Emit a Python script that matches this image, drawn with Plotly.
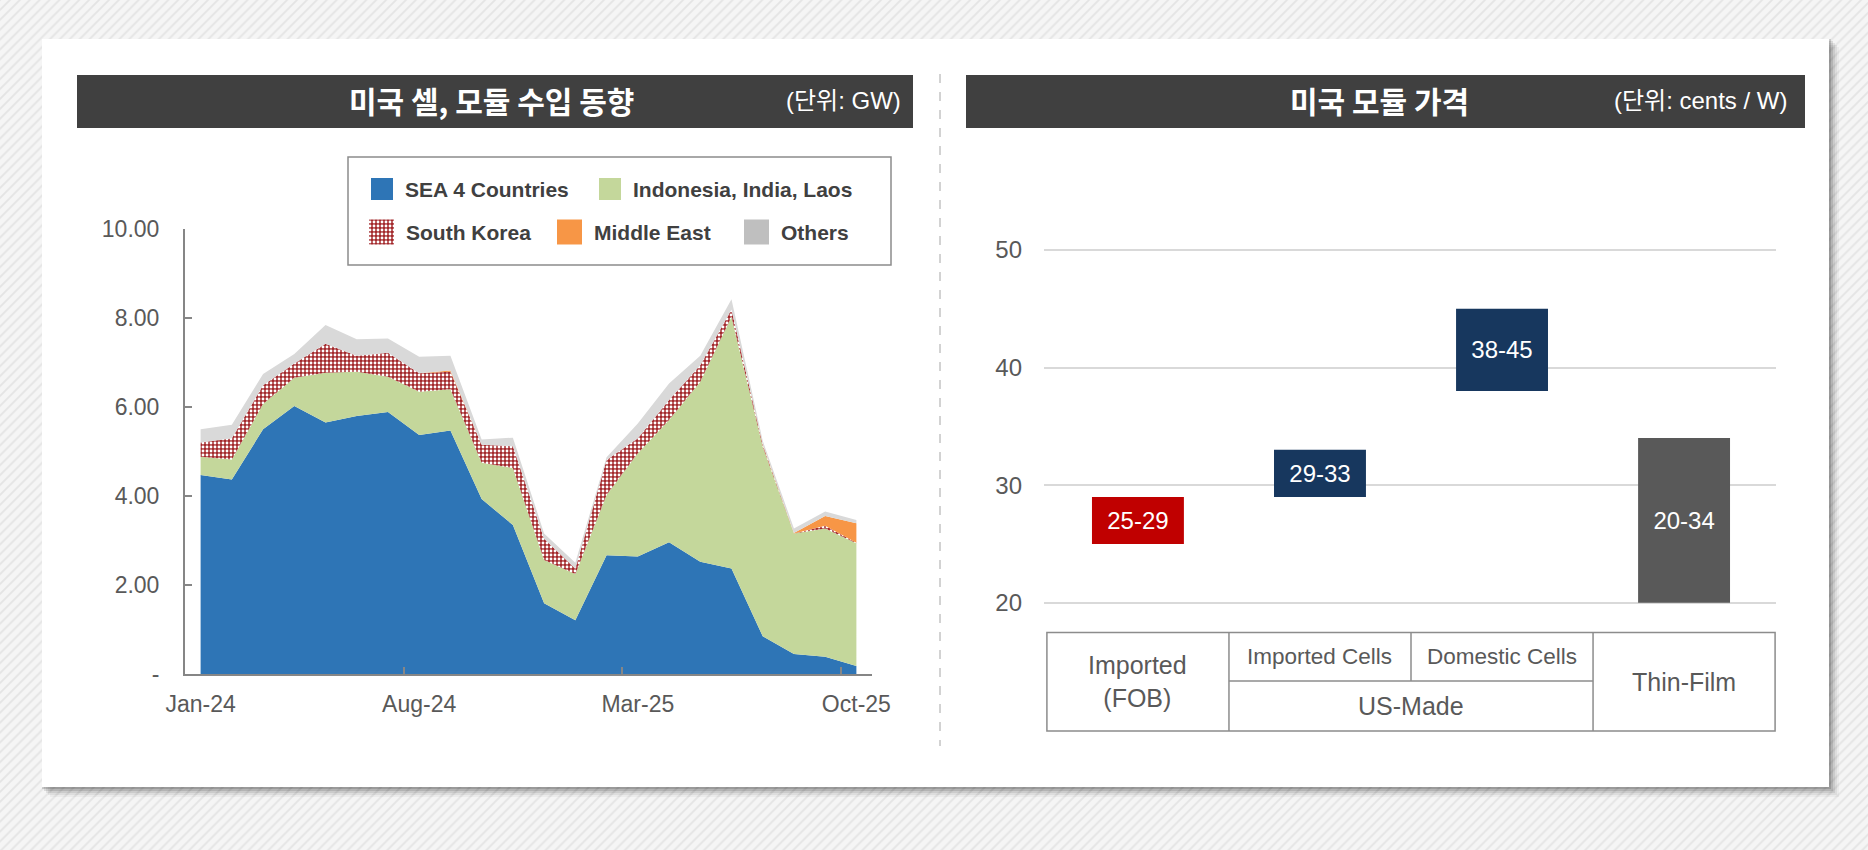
import plotly.graph_objects as go

W, H = 1868, 850

# ---------------- data: left chart (GW) ----------------
months = ["Jan-24", "Feb-24", "Mar-24", "Apr-24", "May-24", "Jun-24", "Jul-24", "Aug-24",
          "Sep-24", "Oct-24", "Nov-24", "Dec-24", "Jan-25", "Feb-25", "Mar-25", "Apr-25",
          "May-25", "Jun-25", "Jul-25", "Aug-25", "Sep-25", "Oct-25"]
sea = [4.47, 4.37, 5.50, 6.02, 5.65, 5.80, 5.89, 5.37, 5.47, 3.93, 3.35,
       1.59, 1.21, 2.67, 2.64, 2.96, 2.52, 2.37, 0.85, 0.45, 0.39, 0.18]
indo = [0.41, 0.45, 0.57, 0.64, 1.12, 0.99, 0.79, 0.97, 0.93, 0.82, 1.28,
        0.97, 1.04, 1.35, 2.32, 2.75, 4.05, 5.66, 4.26, 2.71, 2.88, 2.76]
korea = [0.32, 0.48, 0.42, 0.32, 0.65, 0.36, 0.54, 0.42, 0.39, 0.40, 0.49,
         0.48, 0.12, 0.79, 0.34, 0.45, 0.37, 0.16, 0.04, 0.00, 0.06, 0.01]
mideast = [0.00, 0.00, 0.00, 0.00, 0.00, 0.00, 0.00, 0.00, 0.03, 0.00, 0.00,
           0.00, 0.00, 0.00, 0.00, 0.00, 0.00, 0.00, 0.02, 0.01, 0.22, 0.44]
others = [0.30, 0.30, 0.25, 0.21, 0.42, 0.37, 0.32, 0.37, 0.33, 0.12, 0.19,
          0.12, 0.13, 0.06, 0.33, 0.37, 0.21, 0.23, 0.07, 0.10, 0.10, 0.07]

series_names = ["SEA 4 Countries", "Indonesia, India, Laos", "South Korea", "Middle East", "Others"]
series_values = [sea, indo, korea, mideast, others]
series_colors = ["#2E75B6", "#C4D79B", "#A3282B", "#F79646", "#D9D9D9"]
swatch_colors = ["#2E75B6", "#C4D79B", "#A3282B", "#F79646", "#BFBFBF"]

month_ticks = ["Jan-24", "Aug-24", "Mar-25", "Oct-25"]
gw_tickvals = [0, 2, 4, 6, 8, 10]
gw_ticktext = ["-", "2.00", "4.00", "6.00", "8.00", "10.00"]

# ---------------- data: right chart (cents / W) ----------------
price_cats = ["Imported (FOB)", "Imported Cells", "Domestic Cells", "Thin-Film"]
price_low = [25, 29, 38, 20]
price_high = [29, 33, 45, 34]
price_colors = ["#C00000", "#17375E", "#17375E", "#595959"]
price_tickvals = [20, 30, 40, 50]
table_single = ["Imported<br>(FOB)", None, None, "Thin-Film"]
table_group = "US-Made"

title_left = "미국 셀, 모듈 수입 동향"
unit_left = "(단위: GW)"
title_right = "미국 모듈 가격"
unit_right = "(단위: cents / W)"

LATIN = "Liberation Sans, Arial, sans-serif"
KOR = "Noto Sans CJK KR, Noto Sans, sans-serif"
UNIT = "Liberation Sans, Arial, Noto Sans CJK KR, sans-serif"
TXT = "#595959"
AXC = "#868686"


def fx(p):
    return p / W


def fy(p):
    return 1 - p / H


fig = go.Figure()

# ---------- background (stripes, shadow, card) on a full-page helper subplot ----------
fig.add_trace(go.Scatter(x=[0, 1, 1, 0, 0], y=[0, 0, 1, 1, 0], mode="lines", fill="toself",
                         line=dict(width=0), fillcolor="#F4F4F4",
                         fillpattern=dict(shape="/", fgcolor="#E4E4E4", bgcolor="#F5F5F5",
                                          size=7, solidity=0.25, fillmode="replace"),
                         hoverinfo="skip", showlegend=False, xaxis="x", yaxis="y"))
for off, alpha in [(10, 0.04), (8, 0.06), (6, 0.08), (4, 0.11), (2, 0.14)]:
    x0, x1, y0, y1 = 42 + off - 2, 1829 + off, 39 + off - 2, 787 + off
    fig.add_trace(go.Scatter(x=[fx(x0), fx(x1), fx(x1), fx(x0), fx(x0)],
                             y=[fy(y0), fy(y0), fy(y1), fy(y1), fy(y0)],
                             mode="lines", fill="toself", line=dict(width=0),
                             fillcolor=f"rgba(0,0,0,{alpha})", hoverinfo="skip",
                             showlegend=False, xaxis="x", yaxis="y"))
fig.add_trace(go.Scatter(x=[fx(42), fx(1829), fx(1829), fx(42), fx(42)],
                         y=[fy(39), fy(39), fy(787), fy(787), fy(39)],
                         mode="lines", fill="toself", line=dict(width=0), fillcolor="white",
                         hoverinfo="skip", showlegend=False, xaxis="x", yaxis="y"))

# ---------- left chart: stacked areas ----------
xs = list(range(len(months)))
for name, vals, col in zip(series_names, series_values, series_colors):
    kw = {}
    if name == "South Korea":
        kw["fillpattern"] = dict(shape=".", fgcolor="white", bgcolor=col, size=4,
                                 solidity=0.4, fillmode="replace")
    fig.add_trace(go.Scatter(x=xs, y=vals, name=name, mode="lines", stackgroup="one",
                             line=dict(width=0), fillcolor=col, showlegend=False,
                             customdata=months, hovertemplate="%{customdata}: %{y:.2f}<extra>" + name + "</extra>",
                             xaxis="x2", yaxis="y2", **kw))

# ---------- right chart: floating bars ----------
fig.add_trace(go.Bar(x=price_cats, y=[h - l for l, h in zip(price_low, price_high)], base=price_low,
                     marker=dict(color=price_colors, line=dict(width=0)), width=0.505,
                     text=[f"{l}-{h}" for l, h in zip(price_low, price_high)],
                     textposition="inside", insidetextanchor="middle", textangle=0,
                     textfont=dict(color="white", size=24, family=LATIN),
                     showlegend=False, xaxis="x3", yaxis="y3"))

shapes = []
annotations = []

# ---------- custom legend ----------
leg_items = [(371, 189, 22), (599, 189, 22), (369, 232, 25), (557, 232, 25), (744, 232, 25)]
shapes.append(dict(type="rect", xref="paper", yref="paper", x0=fx(348), x1=fx(891), y0=fy(157), y1=fy(265),
                   line=dict(color="#8C8C8C", width=1.5), fillcolor="rgba(0,0,0,0)", layer="above"))
for (lx, ly, s), name, col in zip(leg_items, series_names, swatch_colors):
    x0, x1, y0, y1 = fx(lx), fx(lx + s), fy(ly - s / 2), fy(ly + s / 2)
    if name == "South Korea":
        fig.add_trace(go.Scatter(x=[x0, x1, x1, x0, x0], y=[y0, y0, y1, y1, y0], mode="lines",
                                 fill="toself", line=dict(width=0), fillcolor=col,
                                 fillpattern=dict(shape=".", fgcolor="white", bgcolor=col, size=4,
                                                  solidity=0.4, fillmode="replace"),
                                 hoverinfo="skip", showlegend=False, xaxis="x", yaxis="y"))
    else:
        shapes.append(dict(type="rect", xref="paper", yref="paper", x0=x0, x1=x1, y0=y0, y1=y1,
                           line=dict(width=0), fillcolor=col, layer="above"))
    annotations.append(dict(xref="paper", yref="paper", x=fx(lx + s + 10), y=fy(ly), xanchor="left",
                            yanchor="middle", showarrow=False, text=f"<b>{name}</b>",
                            font=dict(family=LATIN, size=21, color="#404040")))

# ---------- title bars ----------
for bx0, bx1, title, unit, tcx, ux in [(77, 913, title_left, unit_left, 491, 903),
                                       (966, 1805, title_right, unit_right, 1379, 1790)]:
    shapes.append(dict(type="rect", xref="paper", yref="paper", x0=fx(bx0), x1=fx(bx1), y0=fy(75), y1=fy(128),
                       line=dict(width=0), fillcolor="#404040", layer="above"))
    annotations.append(dict(xref="paper", yref="paper", x=fx(tcx), y=fy(100), xanchor="center", yanchor="middle",
                            showarrow=False, text=f"<b>{title}</b>",
                            font=dict(family=KOR, size=30, color="white")))
    annotations.append(dict(xref="paper", yref="paper", x=fx(ux), y=fy(101), xanchor="right", yanchor="middle",
                            showarrow=False, text=unit,
                            font=dict(family=UNIT, size=24, color="white")))

# dashed separator
shapes.append(dict(type="line", xref="paper", yref="paper", x0=fx(940), x1=fx(940), y0=fy(74), y1=fy(746),
                   line=dict(color="#A6A6A6", width=1, dash="dash")))

# ---------- category table under right chart ----------
t_top, t_mid, t_bot = fy(632.5), fy(681), fy(731)
lc = dict(color="#8C8C8C", width=1.5)
n = len(price_cats)
shapes.append(dict(type="rect", xref="x3", yref="paper", x0=-0.5, x1=n - 0.5, y0=t_bot, y1=t_top, line=lc))
for b in [0.5, n - 1.5]:
    shapes.append(dict(type="line", xref="x3", yref="paper", x0=b, x1=b, y0=t_bot, y1=t_top, line=lc))
shapes.append(dict(type="line", xref="x3", yref="paper", x0=1.5, x1=1.5, y0=t_mid, y1=t_top, line=lc))
shapes.append(dict(type="line", xref="x3", yref="paper", x0=0.5, x1=n - 1.5, y0=t_mid, y1=t_mid, line=lc))
big_font = dict(family=LATIN, size=25, color=TXT)
small_font = dict(family=LATIN, size=22.5, color=TXT)
for i, cat in enumerate(price_cats):
    if table_single[i] is not None:
        annotations.append(dict(xref="x3", yref="paper", x=i, y=(t_top + t_bot) / 2, showarrow=False,
                                text=table_single[i], font=big_font, xanchor="center", yanchor="middle"))
    else:
        annotations.append(dict(xref="x3", yref="paper", x=i, y=(t_top + t_mid) / 2, showarrow=False,
                                text=cat, font=small_font, xanchor="center", yanchor="middle"))
annotations.append(dict(xref="x3", yref="paper", x=1.5, y=(t_mid + t_bot) / 2, showarrow=False,
                        text=table_group, font=big_font, xanchor="center", yanchor="middle"))

label_idx = [months.index(m) for m in month_ticks]

fig.update_layout(
    width=W, height=H, autosize=False,
    margin=dict(l=0, r=0, t=0, b=0, pad=0, autoexpand=False),
    paper_bgcolor="#F4F4F4", plot_bgcolor="rgba(0,0,0,0)",
    showlegend=False, shapes=shapes, annotations=annotations,
    font=dict(family=LATIN, color=TXT),
    xaxis=dict(domain=[0, 1], range=[0, 1], visible=False, fixedrange=True, automargin=False),
    yaxis=dict(domain=[0, 1], range=[0, 1], visible=False, fixedrange=True, automargin=False),
    xaxis2=dict(domain=[fx(185), fx(872)], range=[-0.5, len(months) - 0.5], anchor="y2", automargin=False,
                tickmode="array", tickvals=label_idx, ticktext=month_ticks, ticks="",
                showline=True, linecolor=AXC, linewidth=2, showgrid=False, zeroline=False,
                tickfont=dict(size=23, color=TXT, family=LATIN), ticklabelstandoff=8,
                minor=dict(tickmode="array", tickvals=[i - 0.5 for i in label_idx[1:]], ticks="inside",
                           ticklen=7, tickwidth=2, tickcolor=AXC, showgrid=False)),
    yaxis2=dict(domain=[fy(674), fy(229)], range=[0, 10], anchor="x2", automargin=False,
                tickmode="array", tickvals=gw_tickvals, ticktext=gw_ticktext, ticks="inside",
                ticklen=7, tickwidth=2, tickcolor=AXC, showline=True, linecolor=AXC, linewidth=2,
                showgrid=False, zeroline=False, tickfont=dict(size=23, color=TXT, family=LATIN),
                ticklabelstandoff=19),
    xaxis3=dict(domain=[fx(1044), fx(1776)], range=[-0.516, 3.505], anchor="y3", type="category",
                automargin=False, showticklabels=False, showgrid=False, zeroline=False, showline=False, ticks=""),
    yaxis3=dict(domain=[fy(603.9), fy(226.4)], range=[19.9, 52], anchor="x3", automargin=False,
                tickmode="array", tickvals=price_tickvals, showgrid=True, gridcolor="#D9D9D9", gridwidth=2,
                zeroline=False, showline=False, ticks="", tickfont=dict(size=24, color=TXT, family=LATIN),
                ticklabelstandoff=21),
)

fig.write_html("out.html", config={"responsive": False, "displayModeBar": False},
               post_script="document.body.style.margin='0';document.body.style.padding='0';"
                           "document.body.style.overflow='hidden';")
